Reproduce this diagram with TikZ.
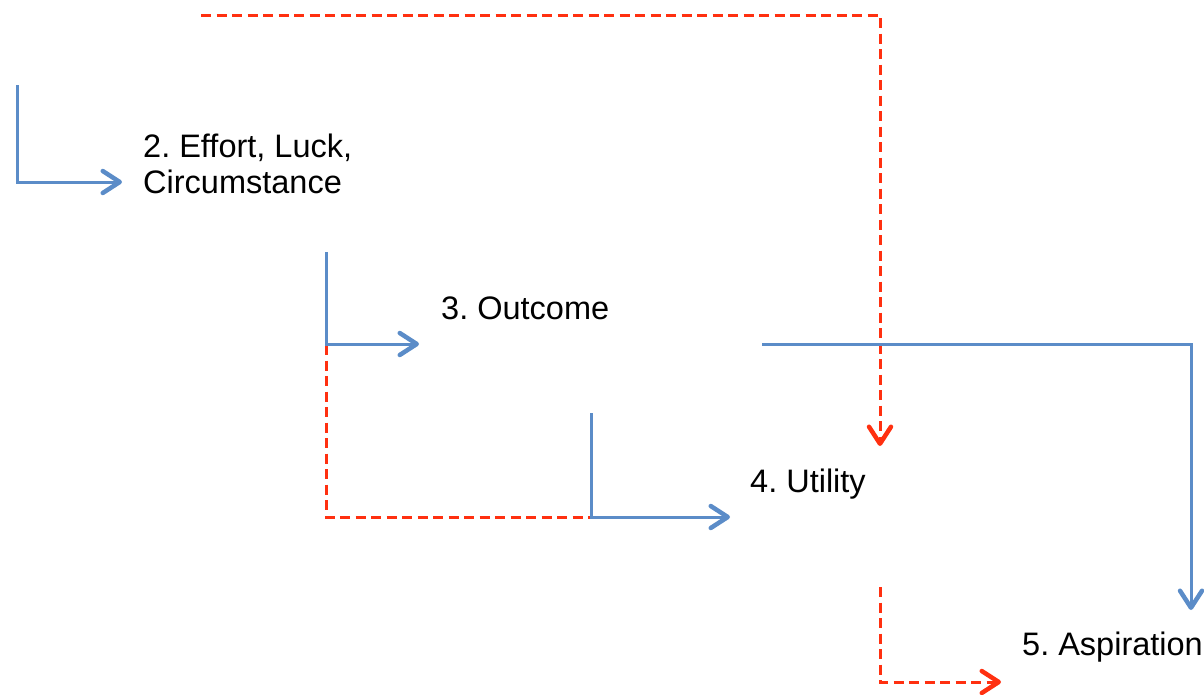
\documentclass[tikz,border=0pt]{standalone}
\usepackage{fontspec}
\setmainfont{Liberation Sans}
\usetikzlibrary{arrows.meta}
\definecolor{flowblue}{HTML}{5B8CC8}
\definecolor{flowred}{HTML}{FF3010}
\tikzset{
  lbl/.style={anchor=base west, inner sep=0pt, font=\fontsize{32.5}{36}\selectfont\frenchspacing, align=left},
  tip/.style={-{Straight Barb[length=17pt, width=22pt, line width=4.5pt, round]}},
  bluearr/.style={draw=flowblue, line width=3pt, tip},
  redarr/.style={draw=flowred, line width=3pt, dash pattern=on 10pt off 5.5pt},
}
\begin{document}
\begin{tikzpicture}[x=1pt, y=-1pt]
\useasboundingbox (0,0) rectangle (1204,694);
% labels
\node[lbl] (n2) at (143,193) {2. Effort, Luck,\\Circumstance};
\node[lbl] (n3) at (441,319) {3. Outcome};
\node[lbl] (n4) at (750,492) {4. Utility};
\node[lbl] (n5) at (1022,655) {5. Aspiration};
% connector end points
\coordinate (b1s) at (17,85);   \coordinate (b1e) at (122,182);
\coordinate (b2s) at (326,252); \coordinate (b2e) at (419,344);
\coordinate (b3s) at (591,413); \coordinate (b3e) at (730,517);
\coordinate (b4s) at (762,344); \coordinate (b4e) at (1191,610);
\coordinate (r1s) at (201,15);  \coordinate (r1e) at (880,446);
\coordinate (r2s) at (326,252); \coordinate (r2e) at (728,517);
\coordinate (r3s) at (880,587); \coordinate (r3e) at (1001,682);
% red dashed connectors
\draw[redarr] (r2s) |- (r2e);
\draw[redarr, tip] (r1s) -| (r1e);
\draw[redarr, tip] (r3s) |- (r3e);
% blue connectors
\draw[bluearr] (b1s) |- (b1e);
\draw[bluearr] (b2s) |- (b2e);
\draw[bluearr] (b3s) |- (b3e);
\draw[bluearr] (b4s) -| (b4e);
\end{tikzpicture}
\end{document}
